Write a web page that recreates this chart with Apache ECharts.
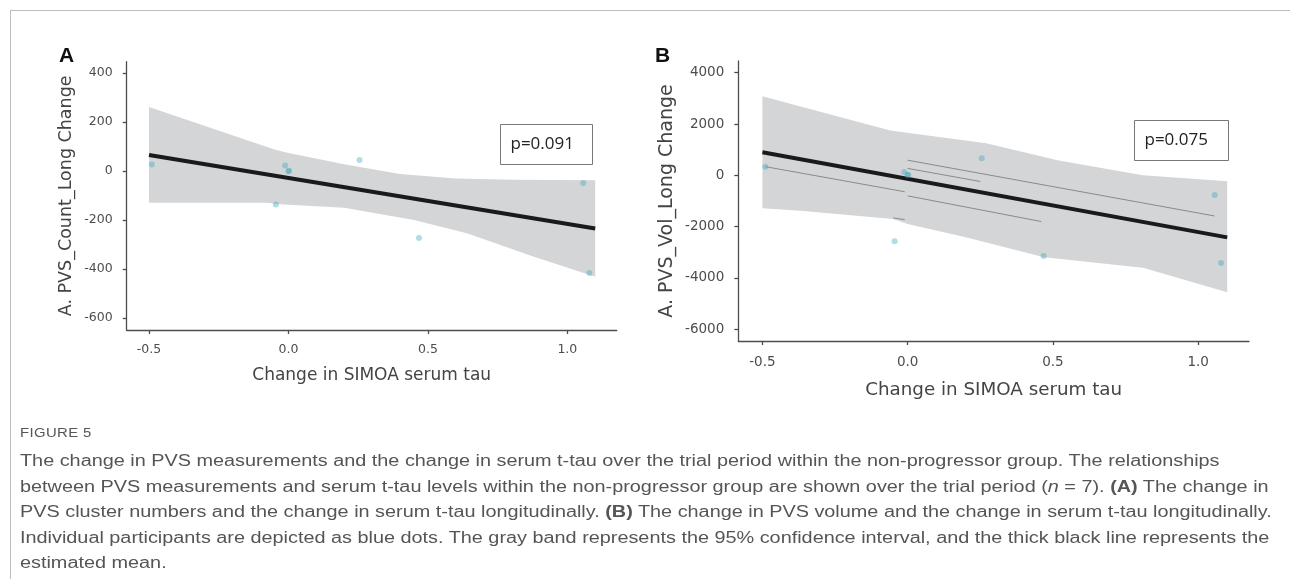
<!DOCTYPE html>
<html>
<head>
<meta charset="utf-8">
<script src="https://cdn.jsdelivr.net/npm/echarts@6.0.0/dist/echarts.min.js"></script>
<style>
    html, body { margin: 0; padding: 0; background: #fff; }
    #wrap { position: relative; width: 1290px; height: 579px; overflow: hidden; }
    #chart { position: absolute; left: 0; top: 0; width: 1290px; height: 579px; }
    #frame { position: absolute; left: 10px; top: 10px; width: 1290px; height: 579px;
             border-top: 1px solid #bdbdbd; border-left: 1px solid #bdbdbd; }
    #caption { position: absolute; left: 20px; top: 426px; color: #555;
               font-family: 'Liberation Sans', Arial, sans-serif; transform-origin: 0 0; }
    #caption .fig { font-size: 12px; letter-spacing: 0.3px; margin-bottom: 8px; }
    #caption .ln { font-size: 16px; line-height: 25.5px; white-space: nowrap; }
</style>
</head>
<body>
<div id="wrap">
    <div id="frame"></div>
    <div id="chart"></div>
    <div id="caption">
        <div class="fig">FIGURE 5</div>
        <div class="ln">The change in PVS measurements and the change in serum t-tau over the trial period within the non-progressor group. The relationships</div>
        <div class="ln">between PVS measurements and serum t-tau levels within the non-progressor group are shown over the trial period (<i>n</i> = 7). <b>(A)</b> The change in</div>
        <div class="ln" id="longest">PVS cluster numbers and the change in serum t-tau longitudinally. <b>(B)</b> The change in PVS volume and the change in serum t-tau longitudinally.</div>
        <div class="ln">Individual participants are depicted as blue dots. The gray band represents the 95% confidence interval, and the thick black line represents the</div>
        <div class="ln">estimated mean.</div>
    </div>
</div>
<script>
// Data
const tauChange = [-0.49, -0.045, -0.012, 0.0, 0.002, 0.255, 0.468, 1.057, 1.079];
const countChange = [27, -136, 23, 0, 2, 45, -273, -49, -416];
const volChange = [330, -2565, 130, 20, 15, 663, -3142, -764, -3415];

// fitted mean lines
const fitTau = [-0.50, 1.10];
const fitCount = [66, -234];
const fitVol = [897, -2417];

// 95% CI band edges [tau, value]
const countUpper = [[-0.50, 262], [-0.05, 88], [0.0, 74], [0.2, 28], [0.4, -12], [0.6, -30], [0.8, -35], [1.10, -37]];
const countLower = [[-0.50, -129], [-0.08, -129], [-0.03, -135], [0.2, -150], [0.45, -200], [0.64, -254], [0.88, -350], [1.10, -431]];
const volUpper = [[-0.50, 3080], [-0.06, 1743], [0.27, 1250], [0.52, 580], [0.81, 0], [1.10, -234]];
const volLower = [[-0.50, -1287], [-0.37, -1376], [-0.05, -1700], [0.0, -1895], [0.2, -2417], [0.47, -3197], [0.81, -3600], [1.10, -4561]];

// thin grey guide segments in panel B
const volGuides = [
    [[-0.49, 339], [-0.01, -640]],
    [[-0.05, -1660], [-0.01, -1727]],
    [[0.0, 590], [1.056, -1583]],
    [[0.0, 270], [0.25, -240]],
    [[0.0, -800], [0.46, -1800]]
];

// axis ticks
const tauTicks = [-0.5, 0.0, 0.5, 1.0];
const countTicks = [-600, -400, -200, 0, 200, 400];
const volTicks = [-6000, -4000, -2000, 0, 2000, 4000];

const pValues = ['p=0.091', 'p=0.075'];

const axisGrey = '#4d4d4d';
const pointColor = 'rgba(63, 167, 185, 0.5)';

function pairs(xs, ys) {
    return xs.map(function (x, i) { return [x, ys[i]]; });
}

function bandSeries(idx, upper, lower) {
    const pts = upper.concat(lower.slice().reverse());
    return {
        type: 'custom',
        xAxisIndex: idx,
        yAxisIndex: idx,
        silent: true,
        z: 1,
        data: [[0, 0]],
        renderItem: function (params, api) {
            return {
                type: 'polygon',
                shape: { points: pts.map(function (p) { return api.coord(p); }) },
                style: { fill: '#d4d5d7' }
            };
        }
    };
}

function xAxisOf(idx, min, max, fs, nameFs, margin, gap) {
    return {
        type: 'value',
        gridIndex: idx,
        min: min,
        max: max,
        name: 'Change in SIMOA serum tau',
        nameLocation: 'middle',
        nameGap: gap,
        nameTextStyle: { color: '#444', fontSize: nameFs, fontFamily: 'DejaVu Sans' },
        axisLine: { onZero: false, lineStyle: { color: axisGrey, width: 1.3 } },
        axisTick: { show: true, length: 4, customValues: tauTicks, lineStyle: { color: axisGrey, width: 1.3 } },
        axisLabel: {
            customValues: tauTicks,
            margin: margin,
            color: axisGrey,
            fontSize: fs,
            fontFamily: 'DejaVu Sans',
            formatter: function (v) { return v.toFixed(1); }
        },
        splitLine: { show: false }
    };
}

function yAxisOf(idx, min, max, ticks, title, fs, nameFs, gap) {
    return {
        type: 'value',
        gridIndex: idx,
        min: min,
        max: max,
        name: title,
        nameLocation: 'middle',
        nameRotate: 90,
        nameGap: gap,
        nameTextStyle: { color: '#444', fontSize: nameFs, fontFamily: 'DejaVu Sans' },
        axisLine: { onZero: false, lineStyle: { color: axisGrey, width: 1.3 } },
        axisTick: { show: true, length: 4, customValues: ticks, lineStyle: { color: axisGrey, width: 1.3 } },
        axisLabel: {
            customValues: ticks,
            margin: 14,
            color: axisGrey,
            fontSize: fs,
            fontFamily: 'DejaVu Sans',
            formatter: function (v) { return String(v); }
        },
        splitLine: { show: false }
    };
}

function pBox(x, y, w, h, text) {
    return {
        type: 'group',
        left: x,
        top: y,
        children: [
            { type: 'rect', shape: { x: 0, y: 0, width: w, height: h }, style: { fill: '#fff', stroke: '#777', lineWidth: 1 } },
            { type: 'text', x: 10, y: h / 2, style: { text: text, fill: '#222', font: '17px "Open Sans"', verticalAlign: 'middle' } }
        ]
    };
}

const chart = echarts.init(document.getElementById('chart'));

const series = [
    bandSeries(0, countUpper, countLower),
    bandSeries(1, volUpper, volLower)
];
volGuides.forEach(function (seg) {
    series.push({
        type: 'line', xAxisIndex: 1, yAxisIndex: 1, data: seg, symbol: 'none', silent: true, z: 2,
        lineStyle: { color: '#8a8a8a', width: 1 }
    });
});
series.push(
    {
        type: 'line', xAxisIndex: 0, yAxisIndex: 0, data: pairs(fitTau, fitCount), symbol: 'none', z: 3,
        lineStyle: { color: '#1a1a1a', width: 4 }
    },
    {
        type: 'line', xAxisIndex: 1, yAxisIndex: 1, data: pairs(fitTau, fitVol), symbol: 'none', z: 3,
        lineStyle: { color: '#1a1a1a', width: 4 }
    },
    {
        type: 'scatter', xAxisIndex: 0, yAxisIndex: 0, data: pairs(tauChange, countChange),
        symbolSize: 6, z: 4, itemStyle: { color: pointColor }
    },
    {
        type: 'scatter', xAxisIndex: 1, yAxisIndex: 1, data: pairs(tauChange, volChange),
        symbolSize: 6, z: 4, itemStyle: { color: pointColor }
    }
);

chart.setOption({
    animation: false,
    backgroundColor: 'transparent',
    grid: [
        { left: 126.7, top: 61.7, width: 490, height: 268.3 },
        { left: 738.3, top: 61, width: 510.7, height: 280 }
    ],
    xAxis: [
        xAxisOf(0, -0.58, 1.177, 12.5, 17, 13, 37),
        xAxisOf(1, -0.583, 1.175, 13.5, 18.3, 14, 40)
    ],
    yAxis: [
        yAxisOf(0, -649, 447, countTicks, 'A. PVS_Count_Long Change', 12.5, 17.5, 51),
        yAxisOf(1, -6456, 4456, volTicks, 'A. PVS_Vol_Long Change', 13.5, 19, 62)
    ],
    graphic: [
        { type: 'text', left: 59, top: 46, style: { text: 'A', fill: '#111', font: 'bold 21px "Liberation Sans"' } },
        { type: 'text', left: 655, top: 46, style: { text: 'B', fill: '#111', font: 'bold 21px "Liberation Sans"' } },
        pBox(500, 124, 92, 40, pValues[0]),
        pBox(1134, 120, 94, 40, pValues[1])
    ],
    series: series
});

// fit caption width to the figure
const cap = document.getElementById('caption');
const longest = document.getElementById('longest');
const k = 1251 / longest.scrollWidth;
cap.style.transform = 'scaleX(' + k.toFixed(3) + ')';
</script>
</body>
</html>
